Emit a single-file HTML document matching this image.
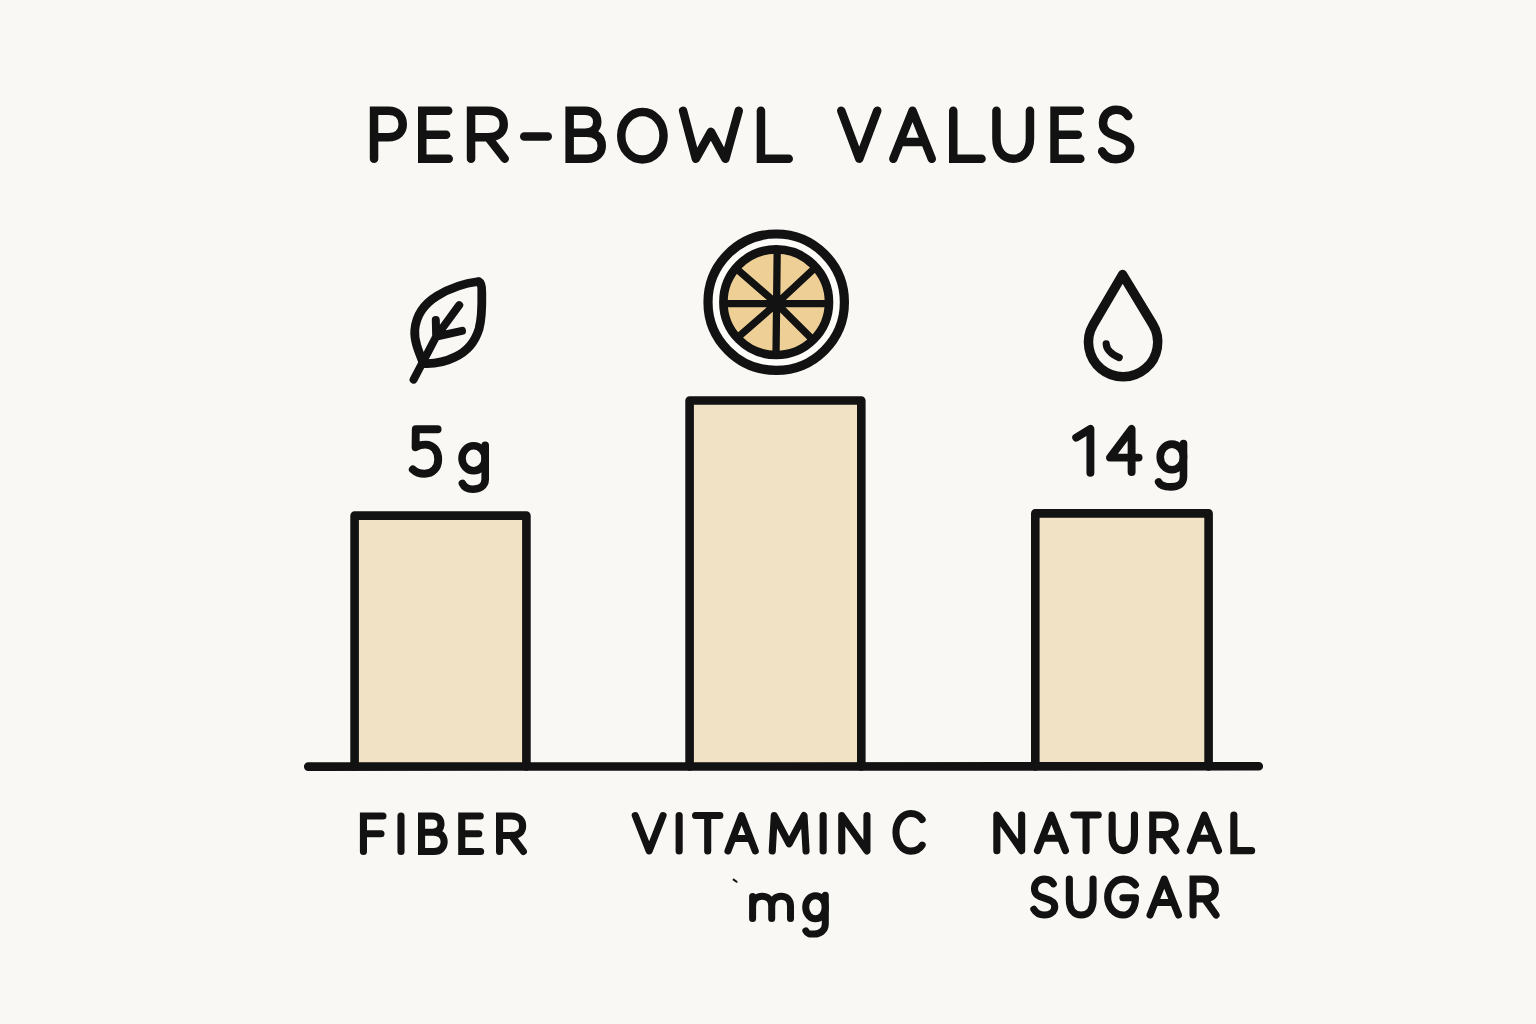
<!DOCTYPE html>
<html><head><meta charset="utf-8"><title>Per-bowl values</title>
<style>
html,body{margin:0;padding:0;background:#faf8f4;}
body{width:1536px;height:1024px;overflow:hidden;font-family:"Liberation Sans",sans-serif;}
svg{display:block;}
</style></head>
<body>
<svg width="1536" height="1024" viewBox="0 0 1536 1024">
<rect x="0" y="0" width="1536" height="1024" fill="#faf8f4"/>
<g fill="none" stroke="#121212" stroke-linecap="round" stroke-linejoin="round">
<path d="M354.60,766.50 L354.60,515.60 L526.40,515.60 L526.40,766.50" fill="#f1e1c5" stroke-width="8.60"/>
<path d="M689.60,766.50 L689.60,400.50 L861.30,400.50 L861.30,766.50" fill="#f1e1c5" stroke-width="8.60"/>
<path d="M1035.30,766.50 L1035.30,513.40 L1208.60,513.40 L1208.60,766.50" fill="#f1e1c5" stroke-width="8.60"/>
<path d="M308.2,766.6 L1258.8,766.3" stroke-width="8.6"/>
<g stroke-width="8.50"><path d="M 374.05,158.75 L 374.05,110.75 L 388.40,110.75 C 397.58,110.75 402.75,116.51 402.75,124.19 C 402.75,131.87 397.58,137.15 388.40,137.15 L 374.05,137.15" stroke-linejoin="miter"/><path d="M 448.22,110.75 L 422.25,110.75 L 422.25,158.75 L 448.75,158.75 M 422.25,134.75 L 446.10,134.75" stroke-linejoin="miter"/><path d="M 471.05,158.75 L 471.05,110.75 L 487.90,110.75 C 498.68,110.75 503.74,116.51 503.74,124.19 C 503.74,131.87 498.68,137.15 487.90,137.15 L 471.05,137.15 M 487.90,137.15 L 504.75,158.75" stroke-linejoin="miter"/><path d="M524.25,136.40 L547.75,136.40"/><path d="M 569.65,132.83 L 585.06,132.83 C 592.76,132.83 597.26,128.03 597.26,121.79 C 597.26,115.07 592.76,110.75 585.06,110.75 L 569.65,110.75 L 569.65,158.75 L 587.30,158.75 C 596.61,158.75 601.75,152.99 601.75,145.79 C 601.75,137.63 596.61,132.83 586.34,132.83" stroke-linejoin="miter"/><ellipse cx="642.40" cy="135.75" rx="21.15" ry="23.70"/><path d="M 683.05,110.75 L 695.86,158.75 L 710.90,131.87 L 725.38,158.75 L 738.75,110.75"/><path d="M 760.95,110.75 L 760.95,158.75 L 788.75,158.75" stroke-linejoin="miter"/><path d="M 841.25,110.75 L 859.25,158.75 L 877.25,110.75"/><path d="M 893.35,158.75 L 912.55,110.75 L 931.75,158.75 M 901.41,141.95 L 923.69,141.95"/><path d="M 953.25,110.75 L 953.25,158.75 L 981.55,158.75" stroke-linejoin="miter"/><path d="M 996.45,110.75 L 996.45,138.59 C 996.45,151.07 1003.15,158.75 1013.20,158.75 C 1023.25,158.75 1029.95,151.07 1029.95,138.59 L 1029.95,110.75"/><path d="M 1079.83,110.75 L 1054.55,110.75 L 1054.55,158.75 L 1080.35,158.75 M 1054.55,134.75 L 1077.77,134.75" stroke-linejoin="miter"/><path d="M 1128.19,116.10 C 1125.67,111.63 1121.75,109.65 1116.15,109.65 C 1108.31,109.65 1102.99,115.60 1102.99,123.04 C 1102.99,130.98 1108.31,133.46 1116.15,135.94 C 1124.55,138.42 1130.15,141.89 1130.15,147.35 C 1130.15,154.29 1124.55,159.25 1116.15,159.25 C 1109.71,159.25 1104.95,156.27 1102.15,151.31"/></g>
<g stroke-width="7.10"><path d="M 382.95,815.95 L 363.45,815.95 L 363.45,851.45 M 363.45,833.70 L 381.00,833.70" stroke-linejoin="miter"/><path d="M 401.00,815.95 L 401.00,851.45"/><path d="M 421.55,832.28 L 432.40,832.28 C 437.82,832.28 440.99,828.73 440.99,824.12 C 440.99,819.14 437.82,815.95 432.40,815.95 L 421.55,815.95 L 421.55,851.45 L 433.98,851.45 C 440.53,851.45 444.15,847.19 444.15,841.87 C 444.15,835.83 440.53,832.28 433.30,832.28" stroke-linejoin="miter"/><path d="M 480.27,815.95 L 461.75,815.95 L 461.75,851.45 L 480.65,851.45 M 461.75,833.70 L 478.76,833.70" stroke-linejoin="miter"/><path d="M 499.55,851.45 L 499.55,815.95 L 511.45,815.95 C 519.07,815.95 522.64,820.21 522.64,825.89 C 522.64,831.57 519.07,835.48 511.45,835.48 L 499.55,835.48 M 511.45,835.48 L 523.35,851.45" stroke-linejoin="miter"/></g>
<g stroke-width="7.10"><path d="M 635.25,815.55 L 649.15,850.95 L 663.05,815.55"/><path d="M 679.15,815.55 L 679.15,850.95"/><path d="M 695.55,815.55 L 719.85,815.55 M 707.70,815.55 L 707.70,850.95" stroke-linejoin="miter"/><path d="M 727.95,850.95 L 741.60,815.55 L 755.25,850.95 M 733.68,838.56 L 749.52,838.56"/><path d="M 772.25,850.95 L 774.28,815.55 L 789.15,843.87 L 804.02,815.55 L 806.05,850.95"/><path d="M 823.15,815.55 L 823.15,850.95"/><path d="M 841.75,850.95 L 841.75,815.55 L 866.95,850.95 L 866.95,815.55"/><path d="M 922.15,819.48 C 919.53,815.33 915.86,813.45 910.62,813.45 C 902.50,813.45 895.95,821.74 895.95,832.30 C 895.95,842.86 902.50,851.15 910.62,851.15 C 915.86,851.15 919.53,849.27 922.15,845.12"/></g>
<g stroke-width="7.10"><path d="M 996.85,850.65 L 996.85,815.05 L 1021.65,850.65 L 1021.65,815.05"/><path d="M 1037.45,850.65 L 1051.45,815.05 L 1065.45,850.65 M 1043.33,838.19 L 1059.57,838.19"/><path d="M 1073.85,815.05 L 1098.25,815.05 M 1086.05,815.05 L 1086.05,850.65" stroke-linejoin="miter"/><path d="M 1112.15,815.05 L 1112.15,835.70 C 1112.15,844.95 1116.61,850.65 1123.30,850.65 C 1129.99,850.65 1134.45,844.95 1134.45,835.70 L 1134.45,815.05"/><path d="M 1152.75,850.65 L 1152.75,815.05 L 1164.35,815.05 C 1171.77,815.05 1175.25,819.32 1175.25,825.02 C 1175.25,830.71 1171.77,834.63 1164.35,834.63 L 1152.75,834.63 M 1164.35,834.63 L 1175.95,850.65" stroke-linejoin="miter"/><path d="M 1190.35,850.65 L 1204.40,815.05 L 1218.45,850.65 M 1196.25,838.19 L 1212.55,838.19"/><path d="M 1233.85,815.05 L 1233.85,850.65 L 1251.65,850.65" stroke-linejoin="miter"/></g>
<g stroke-width="7.10"><path d="M 1053.29,883.82 C 1051.41,880.59 1048.48,879.15 1044.30,879.15 C 1038.45,879.15 1034.48,883.46 1034.48,888.84 C 1034.48,894.59 1038.45,896.38 1044.30,898.18 C 1050.57,899.97 1054.75,902.49 1054.75,906.43 C 1054.75,911.46 1050.57,915.05 1044.30,915.05 C 1039.49,915.05 1035.94,912.90 1033.85,909.31"/><path d="M 1069.35,879.15 L 1069.35,899.97 C 1069.35,909.31 1074.09,915.05 1081.20,915.05 C 1088.31,915.05 1093.05,909.31 1093.05,899.97 L 1093.05,879.15"/><path d="M 1135.45,884.89 C 1132.67,880.94 1128.78,879.15 1123.22,879.15 C 1114.60,879.15 1107.65,887.05 1107.65,897.10 C 1107.65,907.15 1114.60,915.05 1123.22,915.05 C 1130.45,915.05 1135.45,907.87 1135.45,897.82 L 1122.94,897.82"/><path d="M 1150.05,915.05 L 1164.25,879.15 L 1178.45,915.05 M 1156.01,902.49 L 1172.49,902.49"/><path d="M 1193.05,915.05 L 1193.05,879.15 L 1204.55,879.15 C 1211.91,879.15 1215.36,883.46 1215.36,889.20 C 1215.36,894.95 1211.91,898.89 1204.55,898.89 L 1193.05,898.89 M 1204.55,898.89 L 1216.05,915.05" stroke-linejoin="miter"/></g>
<g stroke-width="7.90"><path d="M437.6,429.2 L415.8,429.2 L415.6,447.2 C418.5,445.2 422,444.6 425.5,444.6 C433.5,444.6 438.2,451 438.2,459.5 C438.2,468 432.5,473.8 424.5,473.8 C419.5,473.8 415.5,472 412.8,469.4"/></g>
<g stroke-width="7.6"><ellipse cx="473.60" cy="458.30" rx="11.60" ry="12.50"/><path d="M485.20,445.30 L485.20,479.20 C485.20,486.20 479.20,489.20 472.60,489.20 C468.60,489.20 464.40,487.50 462.40,483.50"/></g>
<g stroke-width="7.90"><path d="M1076.2,437.6 L1090.4,428.8 L1090.4,472.8"/><path d="M1138.6,457.6 L1110.0,457.6 L1131.6,429.0 L1131.6,472.0"/></g>
<g stroke-width="7.6"><ellipse cx="1171.85" cy="456.90" rx="11.65" ry="12.80"/><path d="M1183.50,443.60 L1183.50,476.90 C1183.50,483.90 1177.50,486.90 1170.85,486.90 C1166.85,486.90 1160.60,486.00 1158.60,482.00"/></g>
<g stroke-width="7.00"><path d="M752.6,918.4 L752.6,896.5 M752.6,906 C752.6,900 756.5,896.2 762.2,896.2 C768,896.2 771.7,900 771.7,906 L771.7,918.4 M771.7,906 C771.7,900 775.5,896.2 781.2,896.2 C787,896.2 790.5,900 790.5,906 L790.5,918.4"/><ellipse cx="815.50" cy="907.25" rx="9.80" ry="11.55"/><path d="M825.30,895.20 L825.30,924.00 C825.30,931.00 819.30,934.00 814.50,934.00 C810.50,934.00 807.80,934.80 805.80,930.80"/></g>
<path d="M733.6,879.6 L736.6,881.8" stroke-width="2"/>
<path d="M423.5,363.5 C418,350 414,340 414.8,330 C416,316 424,304 437,296 C450,288 466,283 478.5,281.5 C481.5,283 482,287 481.8,293 C482,305 482,318 479,329 C475,342 466,352 455,357 C445,362 433,364 423.5,363.5 Z" stroke-width="8.8"/><path d="M413.6,379.6 L436.2,336.5 L459.2,305.2 M436.2,336.5 L435.8,320.0 M436.5,336.5 L462.0,330.8" stroke-width="8.0"/>
<circle cx="776.2" cy="302.2" r="68.2" stroke-width="9.2" fill="#fdfcf9"/><circle cx="776.2" cy="302.2" r="52.8" stroke-width="8.6" fill="#eed096"/><clipPath id="lc"><circle cx="776.2" cy="302.2" r="52"/></clipPath><path d="M724.60,303.60 L828.60,303.60 M777.20,251.60 L776.00,355.60 M776.60,303.60 L737.36,269.48 M776.60,303.60 L814.63,268.14 M776.60,303.60 L737.36,337.72 M776.60,303.60 L813.37,340.37" stroke-width="7.3" stroke-linecap="butt" clip-path="url(#lc)"/>
<path d="M1122.60,274.60 L1152.69,324.27 A34.60,34.60 0 1 1 1093.25,324.71 Z" stroke-width="9.5"/><path d="M1106.2,343.8 C1106.5,350 1111,354 1119.2,357.6" stroke-width="7.2"/>
</g>
</svg>
</body></html>
